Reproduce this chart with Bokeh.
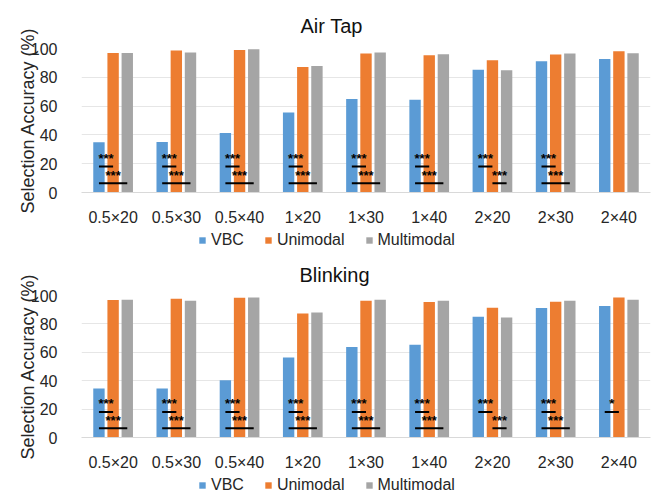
from bokeh.plotting import figure
from bokeh.models import ColumnDataSource, FactorRange, FixedTicker, Legend, LegendItem, Range1d
from bokeh.transform import dodge
from bokeh.layouts import column
from bokeh.embed import file_html
from bokeh.resources import INLINE
from bokeh.core.properties import value

# ---------------- data ----------------
categories = ["0.5×20", "0.5×30", "0.5×40", "1×20", "1×30", "1×40", "2×20", "2×30", "2×40"]
series = ["VBC", "Unimodal", "Multimodal"]
y_ticks = [0, 20, 40, 60, 80, 100]

air_vbc = [34.9, 35.1, 41.4, 55.6, 64.9, 64.4, 85.3, 91.1, 92.7]
air_uni = [96.9, 98.6, 99.0, 87.2, 96.5, 95.3, 91.8, 95.8, 98.1]
air_multi = [96.9, 97.2, 99.5, 87.9, 97.2, 96.0, 84.9, 96.5, 96.7]

blink_vbc = [34.5, 34.5, 40.3, 56.3, 63.7, 65.3, 85.0, 91.2, 92.6]
blink_uni = [96.8, 97.7, 98.4, 87.3, 96.3, 95.4, 91.4, 95.6, 98.6]
blink_multi = [97.0, 96.3, 98.6, 88.0, 97.0, 96.3, 84.5, 96.3, 97.0]

# significance comparisons: (category, group a, group b, label)
air_sig = [
    ("0.5×20", "VBC", "Unimodal", "***"), ("0.5×20", "VBC", "Multimodal", "***"),
    ("0.5×30", "VBC", "Unimodal", "***"), ("0.5×30", "VBC", "Multimodal", "***"),
    ("0.5×40", "VBC", "Unimodal", "***"), ("0.5×40", "VBC", "Multimodal", "***"),
    ("1×20", "VBC", "Unimodal", "***"), ("1×20", "VBC", "Multimodal", "***"),
    ("1×30", "VBC", "Unimodal", "***"), ("1×30", "VBC", "Multimodal", "***"),
    ("1×40", "VBC", "Unimodal", "***"), ("1×40", "VBC", "Multimodal", "***"),
    ("2×20", "VBC", "Unimodal", "***"), ("2×20", "Unimodal", "Multimodal", "***"),
    ("2×30", "VBC", "Unimodal", "***"), ("2×30", "VBC", "Multimodal", "***"),
]
blink_sig = air_sig + [("2×40", "VBC", "Unimodal", "*")]

# ---------------- style ----------------
colors = ["#5B9BD5", "#ED7D31", "#A5A5A5"]
offsets = [-0.224, 0.0, 0.224]
FONT = "Liberation Sans"
TEXT = "#262626"
W = 651


def make_panel(title, vbc, uni, multi, sig, height, frame_top, frame_bottom_gap, title_offset, title_standoff):
    p = figure(x_range=FactorRange(*categories), y_range=Range1d(0, 100),
               width=W, height=height, output_backend="svg", toolbar_location=None,
               min_border_left=81, min_border_right=1, min_border_top=frame_top,
               min_border_bottom=frame_bottom_gap)
    p.title.text = title
    p.title.align = "left"
    p.title.offset = title_offset
    p.title.text_font = FONT
    p.title.text_font_size = "20px"
    p.title.text_font_style = "normal"
    p.title.text_color = "#111111"
    p.title.text_line_height = 0.9
    p.title.standoff = title_standoff
    p.outline_line_color = None

    p.xgrid.grid_line_color = None
    p.ygrid.grid_line_color = "#E6E6E6"

    p.yaxis.ticker = FixedTicker(ticks=y_ticks)
    p.yaxis.axis_line_color = None
    p.yaxis.major_tick_line_color = None
    p.yaxis.minor_tick_line_color = None
    p.yaxis.major_label_standoff = 18
    p.yaxis.major_label_text_font = FONT
    p.yaxis.major_label_text_font_size = "16px"
    p.yaxis.major_label_text_color = TEXT
    p.yaxis.axis_label = "Selection Accuracy (%)"
    p.yaxis.axis_label_text_font = FONT
    p.yaxis.axis_label_text_font_size = "18px"
    p.yaxis.axis_label_text_font_style = "normal"
    p.yaxis.axis_label_text_color = TEXT
    p.yaxis.axis_label_standoff = -10

    p.xaxis.axis_line_color = "#D9D9D9"
    p.xaxis.major_tick_line_color = None
    p.xaxis.minor_tick_line_color = None
    p.xaxis.major_label_standoff = 10
    p.xaxis.major_label_text_font = FONT
    p.xaxis.major_label_text_font_size = "16px"
    p.xaxis.major_label_text_color = TEXT

    src = ColumnDataSource(dict(cat=categories, VBC=vbc, Unimodal=uni, Multimodal=multi))
    for s, off, col in zip(series, offsets, colors):
        p.vbar(x=dodge("cat", off, range=p.x_range), top=s, width=0.18, source=src,
               fill_color=col, line_color=None)

    x0s, x1s, ys, xm, labels = [], [], [], [], []
    for cat, a, b, lab in sig:
        idx = categories.index(cat)
        xa = idx + 0.5 + offsets[series.index(a)]
        xb = idx + 0.5 + offsets[series.index(b)]
        y = 18 if {a, b} == {"VBC", "Unimodal"} else 6.5
        x0s.append(xa); x1s.append(xb); ys.append(y); xm.append((xa + xb) / 2); labels.append(lab)
    ssrc = ColumnDataSource(dict(x0=x0s, x1=x1s, y=ys, xm=xm, lab=labels))
    p.segment(x0="x0", y0="y", x1="x1", y1="y", source=ssrc, line_color="black", line_width=2)
    p.text(x="xm", y="y", text="lab", source=ssrc, text_align="center", text_baseline="alphabetic",
           text_font=value(FONT), text_font_size="13px", text_font_style="bold",
           text_color="black", y_offset=-8)
    return p


def make_legend(height, legend_x, legend_y):
    lf = figure(width=W, height=height, output_backend="svg", toolbar_location=None,
                x_range=Range1d(0, 1), y_range=Range1d(0, 1), min_border=0)
    lf.axis.visible = False
    lf.grid.visible = False
    lf.outline_line_color = None
    rs = []
    for s, col in zip(series, colors):
        # zero-height proxy bars: they only supply the legend swatches
        rs.append(lf.vbar(x=[0.5], top=[0], width=0.01, fill_color=col, line_color=None))
    legend = Legend(items=[LegendItem(label=s, renderers=[r]) for s, r in zip(series, rs)],
                    orientation="horizontal", location=(legend_x, legend_y),
                    label_text_font=FONT, label_text_font_size="16px", label_text_color=TEXT,
                    glyph_width=8, glyph_height=8, label_standoff=5, spacing=20,
                    padding=0, margin=0, border_line_color=None, background_fill_alpha=0)
    lf.add_layout(legend, "center")
    return lf


p1 = make_panel("Air Tap", air_vbc, air_uni, air_multi, air_sig, 228, 48, 36, 219, 23)
l1 = make_legend(22, 117, 1)
p2 = make_panel("Blinking", blink_vbc, blink_uni, blink_multi, blink_sig, 223, 45, 34, 218, 20)
l2 = make_legend(23, 117, 2)
layout = column(p1, l1, p2, l2, spacing=0)

open("out.html", "w").write(file_html(layout, INLINE))
